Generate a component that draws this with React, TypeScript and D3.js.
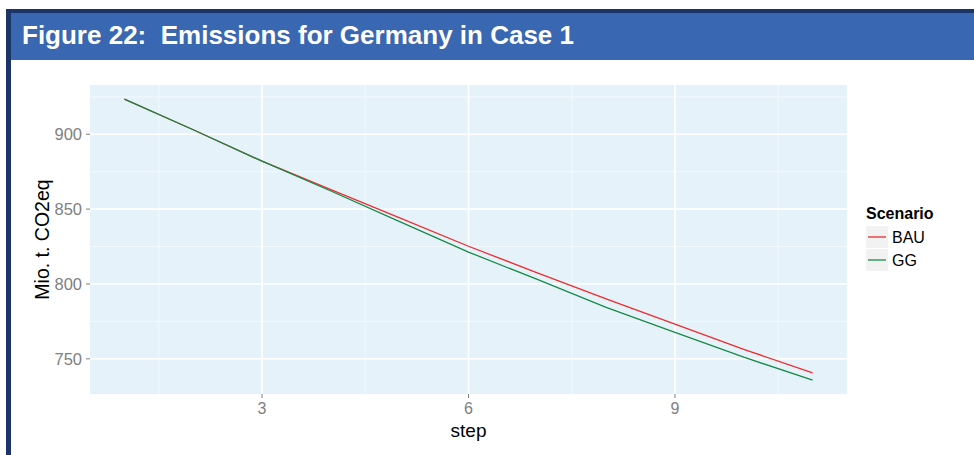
import React from "react";
import * as d3 from "d3";

const steps = [1, 2, 3, 4, 5, 6, 7, 8, 9, 10, 11];
const bau = [923.5, 903.0, 882.0, 863.0, 844.1, 825.2, 807.4, 790.0, 773.1, 756.3, 740.6];
const gg = [923.5, 903.0, 882.0, 862.1, 841.6, 821.3, 803.0, 784.4, 767.7, 751.1, 735.7];
const seriesNames = ["BAU", "GG"];
const seriesColors = ["#ee2b2f", "#168a46"];
const xTicks = [3, 6, 9];
const xMinor = [1.5, 4.5, 7.5, 10.5];
const yTicks = [750, 800, 850, 900];
const yMinor = [775, 825, 875, 925];

const W = 974;
const H = 455;
const panel = { left: 90, right: 847, top: 85, bottom: 394 };
const FONT = "'Liberation Sans', Arial, Helvetica, sans-serif";

export default function App() {
  const x = d3.scaleLinear().domain([0.5, 11.5]).range([panel.left, panel.right]);
  const y = d3.scaleLinear().domain([726.5, 932.9]).range([panel.bottom, panel.top]);
  const line = d3
    .line<number>()
    .x((_, i) => x(steps[i]))
    .y((d) => y(d));
  const series = [bau, gg];

  return (
    <svg
      width={W}
      height={H}
      style={{ position: "absolute", left: 0, top: 0, display: "block" }}
      fontFamily={FONT}
    >
      <rect x={0} y={0} width={W} height={H} fill="#ffffff" />
      {/* frame */}
      <rect x={6} y={9} width={W - 6} height={4} fill="#1b3568" />
      <rect x={6} y={9} width={5} height={H - 9} fill="#1b3568" />
      <rect x={11} y={13} width={W - 11} height={47} fill="#3a67b1" />
      <text
        x={22}
        y={44}
        fill="#ffffff"
        fontSize={25}
        fontWeight="bold"
        textLength={552}
        lengthAdjust="spacingAndGlyphs"
        style={{ whiteSpace: "pre" }}
      >
        {"Figure 22:  Emissions for Germany in Case 1"}
      </text>

      {/* panel */}
      <rect
        x={panel.left}
        y={panel.top}
        width={panel.right - panel.left}
        height={panel.bottom - panel.top}
        fill="#e6f2fa"
      />
      {yMinor.map((v) => (
        <line key={"ym" + v} x1={panel.left} x2={panel.right} y1={y(v)} y2={y(v)} stroke="#f3f9fd" strokeWidth={1} />
      ))}
      {xMinor.map((v) => (
        <line key={"xm" + v} x1={x(v)} x2={x(v)} y1={panel.top} y2={panel.bottom} stroke="#f3f9fd" strokeWidth={1} />
      ))}
      {yTicks.map((v) => (
        <line key={"y" + v} x1={panel.left} x2={panel.right} y1={y(v)} y2={y(v)} stroke="#ffffff" strokeWidth={1.6} />
      ))}
      {xTicks.map((v) => (
        <line key={"x" + v} x1={x(v)} x2={x(v)} y1={panel.top} y2={panel.bottom} stroke="#ffffff" strokeWidth={1.6} />
      ))}

      {series.map((s, i) => (
        <path key={seriesNames[i]} d={line(s) || ""} fill="none" stroke={seriesColors[i]} strokeWidth={1.3} />
      ))}

      {/* y axis */}
      {yTicks.map((v) => (
        <g key={"yt" + v}>
          <line x1={panel.left - 4} x2={panel.left} y1={y(v)} y2={y(v)} stroke="#7f7f7f" strokeWidth={1} />
          <text x={panel.left - 8} y={y(v)} dy="0.36em" textAnchor="end" fontSize={16.5} fill="#7f7f7f">
            {v}
          </text>
        </g>
      ))}
      {/* x axis */}
      {xTicks.map((v) => (
        <g key={"xt" + v}>
          <line x1={x(v)} x2={x(v)} y1={panel.bottom} y2={panel.bottom + 4} stroke="#7f7f7f" strokeWidth={1} />
          <text x={x(v)} y={414} textAnchor="middle" fontSize={16} fill="#7f7f7f">
            {v}
          </text>
        </g>
      ))}
      <text x={(panel.left + panel.right) / 2} y={437} textAnchor="middle" fontSize={19} fill="#000000">
        step
      </text>
      <text
        transform={`translate(49, ${(panel.top + panel.bottom) / 2}) rotate(-90)`}
        textAnchor="middle"
        fontSize={19.5}
        fill="#000000"
      >
        Mio. t. CO2eq
      </text>

      {/* legend */}
      <text x={866} y={219} fontSize={16} fontWeight="bold" fill="#000000">
        Scenario
      </text>
      {seriesNames.map((name, i) => (
        <g key={"lg" + name} transform={`translate(866, ${226 + i * 23})`}>
          <rect x={0} y={0} width={22} height={22} fill="#f2f2f2" />
          <line x1={2} x2={20} y1={11} y2={11} stroke={seriesColors[i]} strokeWidth={1.3} />
          <text x={26} y={17} fontSize={16} fill="#000000">
            {name}
          </text>
        </g>
      ))}
    </svg>
  );
}
